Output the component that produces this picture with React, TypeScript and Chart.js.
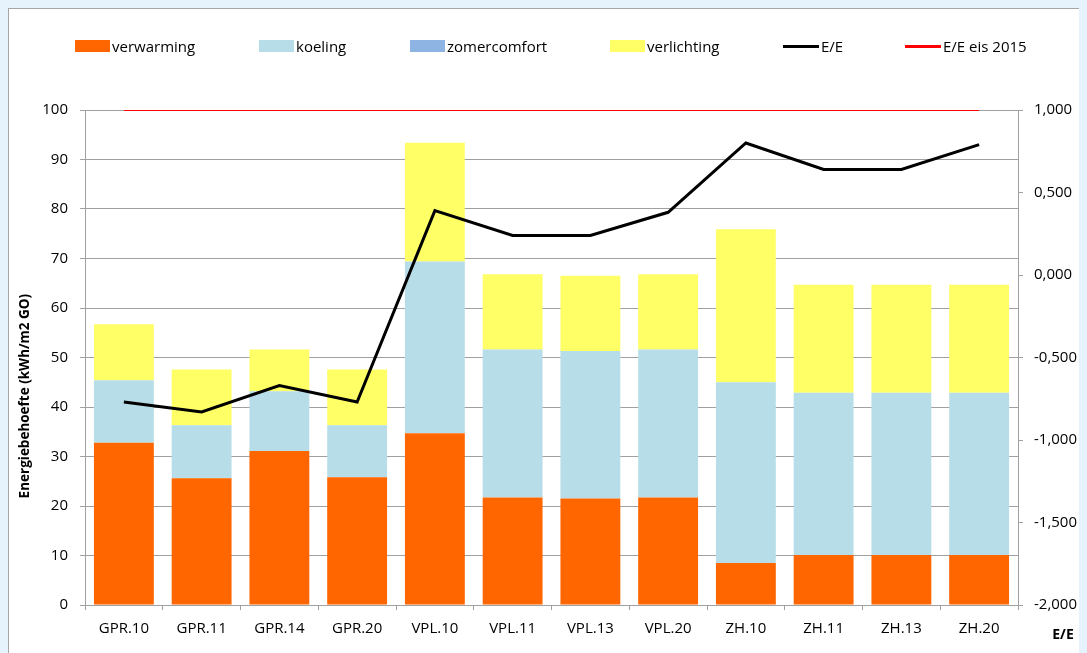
import React, { useEffect, useRef } from "react";
import { Chart, registerables } from "chart.js";

Chart.register(...registerables);

const categories = ["GPR.10", "GPR.11", "GPR.14", "GPR.20", "VPL.10", "VPL.11", "VPL.13", "VPL.20", "ZH.10", "ZH.11", "ZH.13", "ZH.20"];
const verwarming = [32.8, 25.6, 31.1, 25.8, 34.7, 21.7, 21.5, 21.7, 8.5, 10.1, 10.1, 10.1];
const koeling = [12.6, 10.7, 12.1, 10.5, 34.7, 29.9, 29.8, 29.9, 36.5, 32.8, 32.8, 32.8];
const zomercomfort = [0, 0, 0, 0, 0, 0, 0, 0, 0, 0, 0, 0];
const verlichting = [11.3, 11.3, 8.4, 11.3, 24.0, 15.2, 15.2, 15.2, 30.9, 21.8, 21.8, 21.8];
const eeValues = [-0.77, -0.83, -0.67, -0.77, 0.39, 0.24, 0.24, 0.38, 0.80, 0.64, 0.64, 0.79];
const eeEis2015 = [1, 1, 1, 1, 1, 1, 1, 1, 1, 1, 1, 1];

const COLORS = {
  verwarming: "#FF6600",
  koeling: "#B7DEE8",
  zomercomfort: "#8EB4E3",
  verlichting: "#FFFF66",
  ee: "#000000",
  eis: "#FF0000",
};

const GRID = "#a0a0a0";
const FONT = "'Open Sans', 'DejaVu Sans', sans-serif";

const legendItems = [
  { label: "verwarming", color: COLORS.verwarming, kind: "box", left: 66 },
  { label: "koeling", color: COLORS.koeling, kind: "box", left: 250 },
  { label: "zomercomfort", color: COLORS.zomercomfort, kind: "box", left: 401 },
  { label: "verlichting", color: COLORS.verlichting, kind: "box", left: 601 },
  { label: "E/E", color: COLORS.ee, kind: "line", left: 774 },
  { label: "E/E eis 2015", color: COLORS.eis, kind: "line", left: 896 },
];

const titlesPlugin = {
  id: "customTitles",
  afterDraw(chart: any) {
    const { ctx, chartArea } = chart;
    ctx.save();
    ctx.fillStyle = "#000";
    ctx.font = `bold 13.5px ${FONT}`;
    ctx.textAlign = "center";
    ctx.textBaseline = "middle";
    const ty = chartArea.top + (chartArea.bottom - chartArea.top) * 0.578;
    ctx.translate(16, ty);
    ctx.rotate(-Math.PI / 2);
    ctx.fillText("Energiebehoefte (kWh/m2 GO)", 0, 0);
    ctx.restore();

    ctx.save();
    ctx.fillStyle = "#000";
    ctx.font = `bold 14px ${FONT}`;
    ctx.textAlign = "center";
    ctx.textBaseline = "middle";
    const s = chart.scales.y2;
    ctx.fillText("E/E", s.left + 45, chartArea.bottom + 30);
    ctx.restore();
  },
};

export default function App() {
  const ref = useRef<HTMLCanvasElement | null>(null);

  useEffect(() => {
    document.documentElement.style.overflow = "hidden";
    document.body.style.background = "#e6f2fc";
    const canvas = ref.current;
    if (!canvas) return;
    const chart = new Chart(canvas, {
      type: "bar",
      data: {
        labels: categories,
        datasets: [
          {
            type: "line",
            label: "E/E",
            data: eeValues,
            yAxisID: "y2",
            borderColor: COLORS.ee,
            backgroundColor: COLORS.ee,
            borderWidth: 3,
            pointRadius: 0,
            tension: 0,
            order: 1,
          } as any,
          {
            type: "line",
            label: "E/E eis 2015",
            data: eeEis2015,
            yAxisID: "y2",
            borderColor: COLORS.eis,
            backgroundColor: COLORS.eis,
            borderWidth: 2,
            pointRadius: 0,
            tension: 0,
            order: 1,
          } as any,
          {
            label: "verwarming",
            data: verwarming,
            backgroundColor: COLORS.verwarming,
            stack: "a",
            yAxisID: "y",
            order: 2,
          },
          {
            label: "koeling",
            data: koeling,
            backgroundColor: COLORS.koeling,
            stack: "a",
            yAxisID: "y",
            order: 2,
          },
          {
            label: "zomercomfort",
            data: zomercomfort,
            backgroundColor: COLORS.zomercomfort,
            stack: "a",
            yAxisID: "y",
            order: 2,
          },
          {
            label: "verlichting",
            data: verlichting,
            backgroundColor: COLORS.verlichting,
            stack: "a",
            yAxisID: "y",
            order: 2,
          },
        ],
      },
      options: {
        responsive: false,
        animation: false,
        devicePixelRatio: 1,
        layout: { padding: { top: 101, left: 0, right: 0, bottom: 0 } },
        datasets: {
          bar: { categoryPercentage: 1, barPercentage: 0.77, borderWidth: 0 },
        },
        plugins: {
          legend: { display: false },
          tooltip: { enabled: false },
          title: { display: false },
        },
        scales: {
          x: {
            stacked: true,
            offset: true,
            grid: {
              offset: true,
              drawOnChartArea: false,
              drawTicks: true,
              tickLength: 5,
              color: GRID,
            },
            border: { display: true, color: GRID, width: 1 },
            ticks: {
              color: "#000",
              font: { family: FONT, size: 15 },
              padding: 10,
              maxRotation: 0,
              autoSkip: false,
            },
            afterFit: (s: any) => {
              s.height = 48;
            },
          },
          y: {
            type: "linear",
            position: "left",
            stacked: true,
            min: 0,
            max: 100,
            ticks: {
              stepSize: 10,
              color: "#000",
              font: { family: FONT, size: 15 },
              padding: 12,
            },
            grid: { color: GRID, tickLength: 5, drawTicks: true },
            border: { display: true, color: GRID, width: 1 },
            afterFit: (s: any) => {
              s.width = 76;
            },
          },
          y2: {
            type: "linear",
            position: "right",
            min: -2,
            max: 1,
            ticks: {
              stepSize: 0.5,
              color: "#000",
              font: { family: FONT, size: 15 },
              padding: 11,
              callback: (v: any) => Number(v).toFixed(3).replace(".", ","),
            },
            grid: { drawOnChartArea: false, color: GRID, tickLength: 5, drawTicks: true },
            border: { display: true, color: GRID, width: 1 },
            afterFit: (s: any) => {
              s.width = 66;
            },
          },
        },
      } as any,
      plugins: [titlesPlugin],
    });
    return () => chart.destroy();
  }, []);

  return (
    <div
      style={{
        position: "relative",
        width: 1077,
        height: 660,
        background: "#ffffff",
        border: "1px solid #a6a6a6",
        boxSizing: "border-box",
      }}
    >
      <canvas ref={ref} width={1075} height={644} style={{ position: "absolute", left: 0, top: 0 }} />
      {legendItems.map((it) => (
        <div
          key={it.label}
          style={{
            position: "absolute",
            left: it.left,
            top: 27,
            height: 20,
            display: "flex",
            alignItems: "center",
            fontFamily: FONT,
            fontSize: 15,
            color: "#000",
            whiteSpace: "nowrap",
          }}
        >
          {it.kind === "box" ? (
            <span style={{ display: "inline-block", width: 35, height: 12, background: it.color }} />
          ) : (
            <span style={{ display: "inline-block", width: 36, height: 3, background: it.color }} />
          )}
          <span style={{ marginLeft: 2 }}>{it.label}</span>
        </div>
      ))}
    </div>
  );
}
